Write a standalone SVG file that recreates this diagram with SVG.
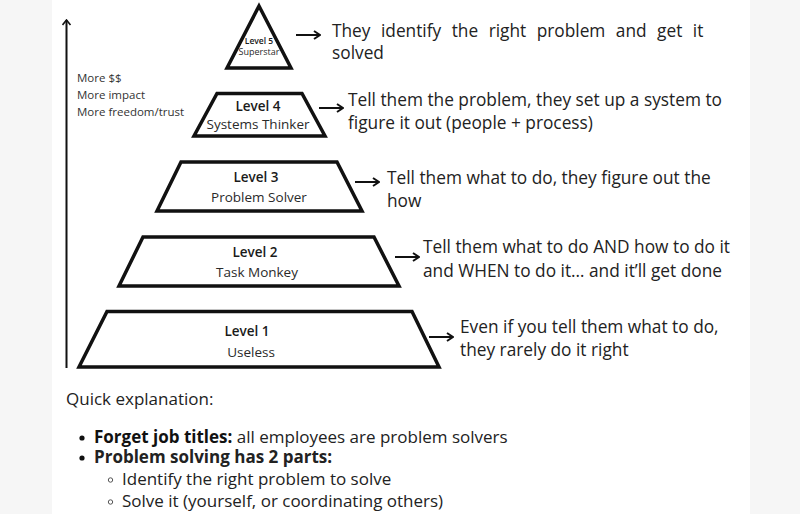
<svg xmlns="http://www.w3.org/2000/svg" width="800" height="514" viewBox="0 0 800 514">
<defs>
<marker id="ah" viewBox="0 0 10 10" refX="9" refY="5" markerWidth="10" markerHeight="10" markerUnits="userSpaceOnUse" orient="auto">
<path d="M3,1 L9,5 L3,9" fill="none" stroke="#111" stroke-width="2"/>
</marker>
<marker id="ahUp" viewBox="0 0 10 10" refX="9" refY="5" markerWidth="10" markerHeight="10" markerUnits="userSpaceOnUse" orient="auto">
<path d="M4,1 L9,5 L4,9" fill="none" stroke="#111" stroke-width="1.6"/>
</marker>
</defs>
<style>
.shape{fill:#fff;stroke:#111;stroke-width:3.5;stroke-linejoin:miter}
.lvl{font-family:"Open Sans","Liberation Sans",sans-serif;font-weight:600;fill:#1a1a1a;text-anchor:middle}
.sub{font-family:"Open Sans","Liberation Sans",sans-serif;font-weight:400;fill:#2a2a2a;text-anchor:middle}
.desc{font-family:"Open Sans","Liberation Sans",sans-serif;font-size:17.3px;fill:#222}
.side{font-family:"Open Sans","Liberation Sans",sans-serif;font-size:11.5px;fill:#333}
.body{font-family:"Open Sans","Liberation Sans",sans-serif;font-size:17px;fill:#222}
.conn{stroke:#111;stroke-width:2;fill:none}
</style>
<rect x="0" y="0" width="800" height="514" fill="#f6f6f6"/>
<rect x="52" y="0" width="698" height="514" fill="#fff"/>

<g id="connectors">
<line class="conn" x1="66.5" y1="368" x2="66.5" y2="20" stroke-width="1.8" marker-end="url(#ahUp)"/>
<line class="conn" x1="296" y1="35" x2="320" y2="35" marker-end="url(#ah)"/>
<line class="conn" x1="319" y1="108" x2="343" y2="108" marker-end="url(#ah)"/>
<line class="conn" x1="355" y1="182" x2="379" y2="182" marker-end="url(#ah)"/>
<line class="conn" x1="395" y1="257" x2="419" y2="257" marker-end="url(#ah)"/>
<line class="conn" x1="429" y1="337" x2="453" y2="337" marker-end="url(#ah)"/>
</g>

<g id="side-labels">
<text class="side" x="77" y="82">More $$</text>
<text class="side" x="77" y="99">More impact</text>
<text class="side" x="77" y="115.5">More freedom/trust</text>
</g>

<g id="level5">
<polygon class="shape" points="259,6 291,68 227,68"/>
<text class="lvl" x="259" y="43.5" font-size="8.5">Level 5</text>
<text class="sub" x="259" y="55" font-size="9">Superstar</text>
<text class="desc" x="332" y="37" word-spacing="6">They identify the right problem and get it</text>
<text class="desc" x="332" y="59">solved</text>
</g>

<g id="level4">
<polygon class="shape" points="217,93.5 302,93.5 325,136 194,136"/>
<text class="lvl" x="258" y="111" font-size="13.5">Level 4</text>
<text class="sub" x="258" y="129" font-size="13.5">Systems Thinker</text>
<text class="desc" x="348" y="106">Tell them the problem, they set up a system to</text>
<text class="desc" x="348" y="129">figure it out (people + process)</text>
</g>

<g id="level3">
<polygon class="shape" points="181,162 337,162 362,211 157,211"/>
<text class="lvl" x="256" y="182" font-size="13.5">Level 3</text>
<text class="sub" x="259" y="202" font-size="13.5">Problem Solver</text>
<text class="desc" x="387" y="184">Tell them what to do, they figure out the</text>
<text class="desc" x="387" y="207">how</text>
</g>

<g id="level2">
<polygon class="shape" points="143,237 374,237 399,286 119,286"/>
<text class="lvl" x="255" y="257" font-size="13.5">Level 2</text>
<text class="sub" x="257" y="277" font-size="13.5">Task Monkey</text>
<text class="desc" x="423" y="253">Tell them what to do AND how to do it</text>
<text class="desc" x="423" y="277">and WHEN to do it… and it’ll get done</text>
</g>

<g id="level1">
<polygon class="shape" points="107,311.5 412,311.5 439,367 79,367"/>
<text class="lvl" x="247" y="336" font-size="13.5">Level 1</text>
<text class="sub" x="251" y="357" font-size="13.5">Useless</text>
<text class="desc" x="460" y="333">Even if you tell them what to do,</text>
<text class="desc" x="460" y="356">they rarely do it right</text>
</g>

<g id="explanation">
<text class="body" x="66" y="405">Quick explanation:</text>
<circle cx="82" cy="438" r="2.6" fill="#111"/>
<text class="body" x="94" y="443"><tspan font-weight="700" fill="#111">Forget job titles:</tspan> all employees are problem solvers</text>
<circle cx="82" cy="458" r="2.6" fill="#111"/>
<text class="body" x="94" y="463" font-weight="700" fill="#111">Problem solving has 2 parts:</text>
<circle cx="110.5" cy="480" r="2.2" fill="none" stroke="#555" stroke-width="1"/>
<text class="body" x="122" y="485">Identify the right problem to solve</text>
<circle cx="110.5" cy="502" r="2.2" fill="none" stroke="#555" stroke-width="1"/>
<text class="body" x="122" y="507">Solve it (yourself, or coordinating others)</text>
</g>
</svg>
